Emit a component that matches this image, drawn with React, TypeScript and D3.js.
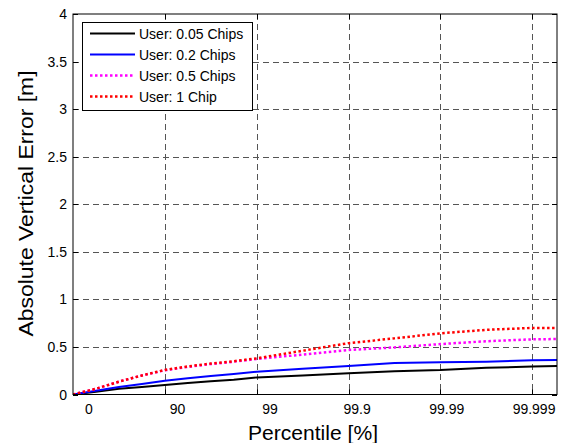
import React, { useEffect, useRef } from 'react'
import * as d3 from 'd3'

// x is -log10(1 - p), so 0 -> 0%, 1 -> 90%, 2 -> 99% ...
const xPoints = [0, 0.25, 0.5, 0.75, 1, 1.25, 1.5, 1.75, 2, 2.5, 3, 3.5, 4, 4.5, 5, 5.27]
const chips005 = [0, 0.03, 0.06, 0.08, 0.1, 0.12, 0.14, 0.155, 0.18, 0.2, 0.223, 0.245, 0.257, 0.28, 0.295, 0.3]
const chips02 = [0, 0.04, 0.08, 0.11, 0.145, 0.17, 0.195, 0.215, 0.24, 0.27, 0.3, 0.33, 0.34, 0.345, 0.36, 0.363]
const chips05 = [0, 0.06, 0.135, 0.2, 0.255, 0.29, 0.32, 0.345, 0.373, 0.42, 0.468, 0.495, 0.53, 0.56, 0.58, 0.583]
const chips1 = [0, 0.06, 0.135, 0.2, 0.258, 0.295, 0.325, 0.35, 0.38, 0.46, 0.54, 0.59, 0.643, 0.68, 0.7, 0.7]

const seriesNames = ['User: 0.05 Chips', 'User: 0.2 Chips', 'User: 0.5 Chips', 'User: 1 Chip']
const seriesColors = ['#000000', '#0000ff', '#ff00ff', '#ff0000']
const seriesDotted = [false, false, true, true]

const xGridTicks = [1, 2, 3, 4, 5]
const xTickLabels = ['0', '90', '99', '99.9', '99.99', '99.999']
const xTickLabelPos = [0.174, 1.138, 2.146, 3.094, 4.069, 5.02]
const yTicks = [0, 0.5, 1, 1.5, 2, 2.5, 3, 3.5, 4]

export default function App() {
  const ref = useRef<SVGSVGElement>(null)

  useEffect(() => {
    const width = 569
    const height = 443
    const margin = { top: 14, right: 12, bottom: 48.5, left: 73 }
    const svg = d3.select(ref.current)
    svg.selectAll('*').remove()

    const x = d3.scaleLinear()
      .domain([0, 5.27])
      .range([margin.left, width - margin.right])
    const y = d3.scaleLinear()
      .domain([0, 4])
      .range([height - margin.bottom, margin.top])

    const font = 'Arial, "Liberation Sans", sans-serif'
    const [x0, x1] = x.range()
    const [y0, y1] = y.range()

    svg.append('rect')
      .attr('width', width).attr('height', height).attr('fill', '#fff')

    // grid
    const grid = svg.append('g')
      .attr('stroke', '#555')
      .attr('stroke-width', 1)
      .attr('stroke-dasharray', '6,4')
    grid.selectAll('.vg').data(xGridTicks).join('line')
      .attr('class', 'vg')
      .attr('x1', d => Math.round(x(d)) + 0.5).attr('x2', d => Math.round(x(d)) + 0.5)
      .attr('y1', y1).attr('y2', y0)
    grid.selectAll('.hg').data(yTicks.slice(1, -1)).join('line')
      .attr('class', 'hg')
      .attr('y1', d => Math.round(y(d)) + 0.5).attr('y2', d => Math.round(y(d)) + 0.5)
      .attr('x1', x0).attr('x2', x1)

    // lines
    const allSeries = [chips005, chips02, chips05, chips1]
    const line = d3.line<number>()
      .x((d, i) => x(xPoints[i]))
      .y(d => y(d))
    const clip = svg.append('clipPath').attr('id', 'plotclip')
    clip.append('rect').attr('x', x0).attr('y', y1).attr('width', x1 - x0).attr('height', y0 - y1)
    svg.append('g').attr('clip-path', 'url(#plotclip)')
      .selectAll('path')
      .data(allSeries)
      .join('path')
      .attr('fill', 'none')
      .attr('stroke', (d, i) => seriesColors[i])
      .attr('stroke-width', (d, i) => seriesDotted[i] ? 2.5 : 2)
      .attr('stroke-dasharray', (d, i) => seriesDotted[i] ? '2.5,2.5' : null)
      .attr('d', d => line(d))

    // axes box + ticks
    const axes = svg.append('g').attr('stroke', '#000').attr('stroke-width', 1)
    axes.append('rect')
      .attr('x', x0).attr('y', y1).attr('width', x1 - x0).attr('height', y0 - y1)
      .attr('fill', 'none')
    const tl = 5
    axes.selectAll('.yt').data(yTicks).join('g').attr('class', 'yt')
      .each(function (d) {
        const g = d3.select(this)
        const yy = Math.round(y(d)) + 0.5
        g.append('line').attr('x1', x0).attr('x2', x0 + tl).attr('y1', yy).attr('y2', yy)
        g.append('line').attr('x1', x1).attr('x2', x1 - tl).attr('y1', yy).attr('y2', yy)
      })
    axes.selectAll('.xt').data(xGridTicks).join('g').attr('class', 'xt')
      .each(function (d) {
        const g = d3.select(this)
        const xx = Math.round(x(d)) + 0.5
        g.append('line').attr('x1', xx).attr('x2', xx).attr('y1', y0).attr('y2', y0 - tl)
        g.append('line').attr('x1', xx).attr('x2', xx).attr('y1', y1).attr('y2', y1 + tl)
      })

    // tick labels
    svg.append('g')
      .attr('font-family', font).attr('font-size', 14).attr('text-anchor', 'end')
      .selectAll('text').data(yTicks).join('text')
      .attr('x', x0 - 6)
      .attr('y', d => y(d))
      .attr('dy', '0.36em')
      .text(d => String(d))
    svg.append('g')
      .attr('font-family', font).attr('font-size', 14).attr('text-anchor', 'middle')
      .selectAll('text').data(xTickLabels).join('text')
      .attr('x', (d, i) => x(xTickLabelPos[i]))
      .attr('y', y0 + 19)
      .text(d => d)

    // axis titles
    svg.append('text')
      .attr('font-family', font).attr('font-size', 20).attr('text-anchor', 'middle')
      .attr('x', 313).attr('y', 439.5)
      .attr('textLength', 130).attr('lengthAdjust', 'spacingAndGlyphs')
      .text('Percentile [%]')
    svg.append('text')
      .attr('font-family', font).attr('font-size', 21).attr('text-anchor', 'middle')
      .attr('transform', `translate(33,203.5) rotate(-90)`)
      .attr('textLength', 266).attr('lengthAdjust', 'spacingAndGlyphs')
      .text('Absolute Vertical Error [m]')

    // legend
    const leg = svg.append('g')
    leg.append('rect')
      .attr('x', 82.5).attr('y', 22.5).attr('width', 170).attr('height', 88)
      .attr('fill', '#fff').attr('stroke', '#000')
    const rows = leg.selectAll('.row').data(seriesNames).join('g').attr('class', 'row')
      .attr('transform', (d, i) => `translate(0,${33.5 + i * 21})`)
    rows.append('line')
      .attr('x1', 90).attr('x2', 135).attr('y1', 0).attr('y2', 0)
      .attr('stroke', (d, i) => seriesColors[i])
      .attr('stroke-width', (d, i) => seriesDotted[i] ? 2.5 : 2)
      .attr('stroke-dasharray', (d, i) => seriesDotted[i] ? '2.5,2.5' : null)
    rows.append('text')
      .attr('x', 139).attr('y', 0).attr('dy', '0.36em')
      .attr('font-family', font).attr('font-size', 14)
      .text(d => d)
  }, [])

  return (
    <svg ref={ref} width={569} height={443}
      style={{ position: 'absolute', left: 0, top: 0, display: 'block' }} />
  )
}
